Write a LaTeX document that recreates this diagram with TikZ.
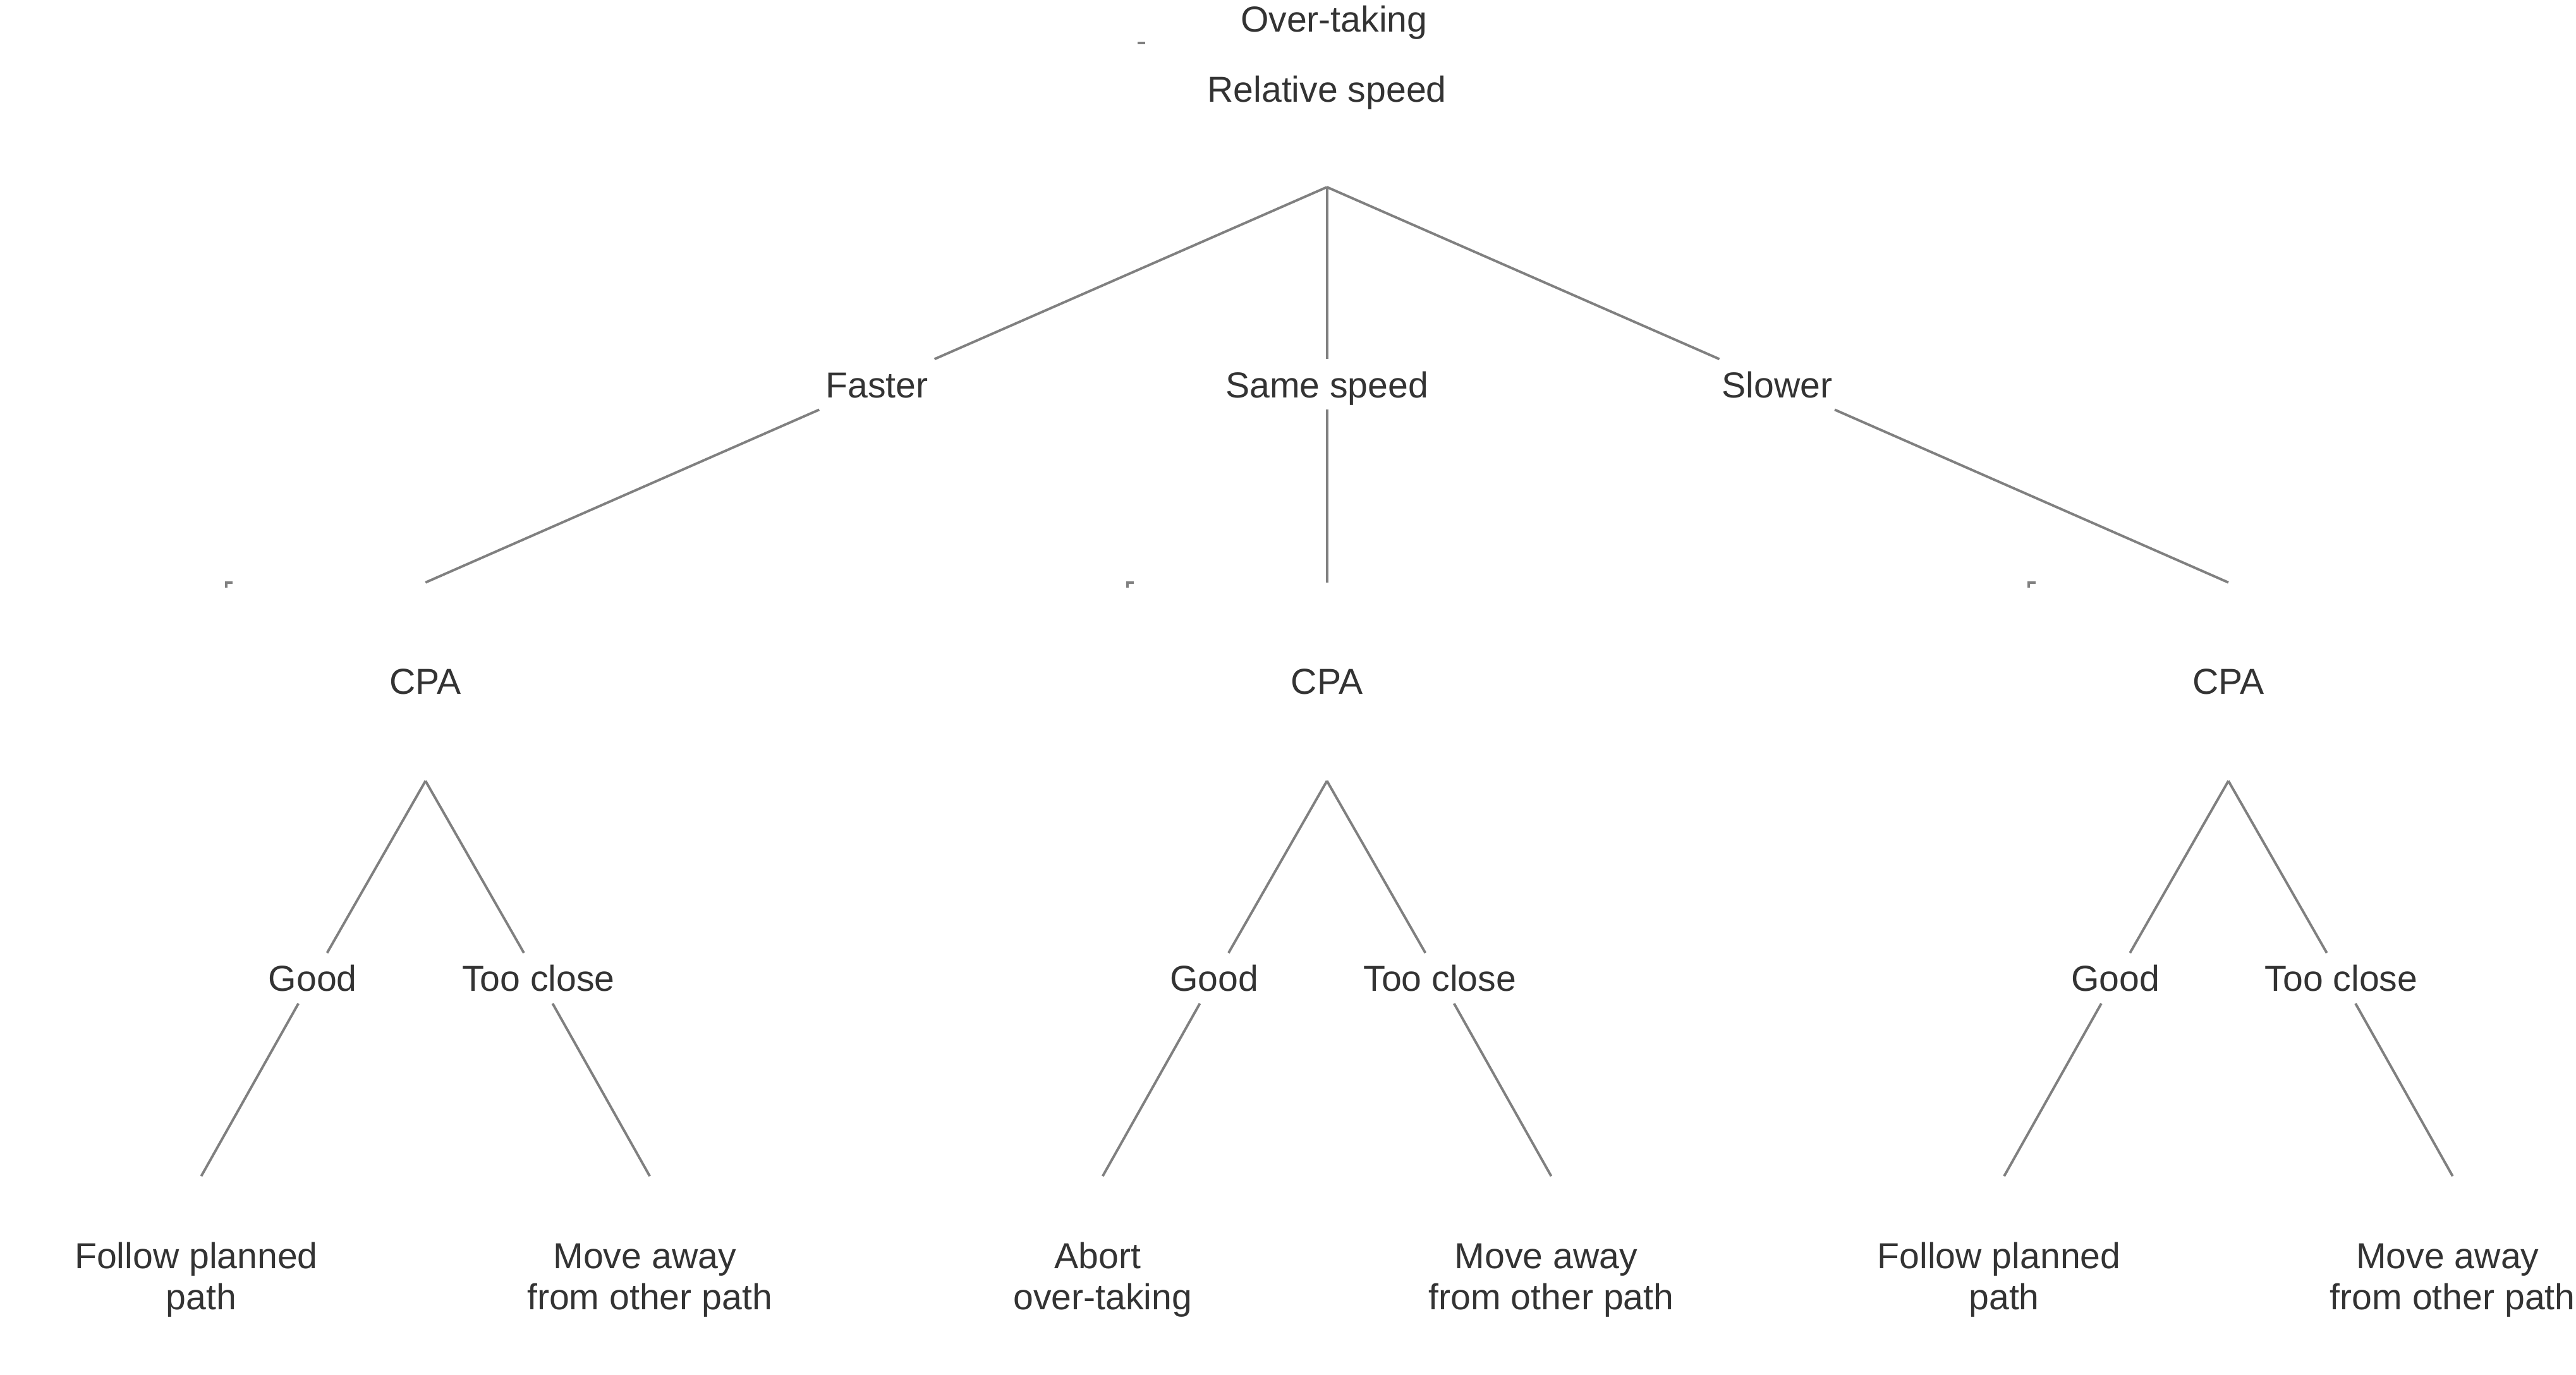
\documentclass[tikz,border=0pt]{standalone}
\usepackage{fontspec}
\setmainfont{Liberation Sans}
\definecolor{txt}{HTML}{333333}
\definecolor{edgegray}{HTML}{808080}
\begin{document}
\begin{tikzpicture}[x=0.5pt,y=-0.5pt,
  every node/.style={font=\fontsize{11}{12.5}\selectfont, text=txt},
  lbl/.style={inner xsep=3pt, inner ysep=0pt, text height=11.5pt, text depth=3.5pt},
  cpabox/.style={inner sep=0pt, minimum width=121pt, minimum height=60pt},
  leafbox/.style={inner sep=0pt, anchor=north, align=center, text height=40.5pt, text depth=19.5pt, minimum width=121pt},
  conn/.style={draw=edgegray, line width=0.75pt},
  tickmark/.style={draw=edgegray, line width=0.75pt}]
\useasboundingbox (0,0) rectangle (1568,837);

% top
\node[anchor=base] (title) at (812,19.5) {Over-taking};
\node[anchor=base, inner sep=0pt, text height=17.75pt, text depth=25.75pt, minimum width=114.7pt] (rs) at (807.7,62) {Relative speed};

% speed level
\node[lbl] (faster) at (533.7,234) {Faster};
\node[lbl] (same)   at (807.7,234) {Same speed};
\node[lbl] (slower) at (1081.7,234) {Slower};

% CPA boxes
\node[cpabox] (cpaA) at (259,415) {CPA};
\node[cpabox] (cpaB) at (807.7,415) {CPA};
\node[cpabox] (cpaC) at (1356.4,415) {CPA};

% Good / Too close
\node[lbl] (goodA)  at (190.3,595.5) {Good};
\node[lbl] (closeA) at (327.7,595.5) {Too close};
\node[lbl] (goodB)  at (739,595.5) {Good};
\node[lbl] (closeB) at (876.4,595.5) {Too close};
\node[lbl] (goodC)  at (1287.7,595.5) {Good};
\node[lbl] (closeC) at (1425.1,595.5) {Too close};

% leaves
\node[leafbox] (leafA1) at (122.5,716) {Follow planned\kern.278em\\path};
\node[leafbox] (leafA2) at (395.5,716) {Move away\kern.278em\\from other path};
\node[leafbox] (leafB1) at (671.2,716) {Abort\kern.278em\\over-taking};
\node[leafbox] (leafB2) at (944.2,716) {Move away\kern.278em\\from other path};
\node[leafbox] (leafC1) at (1219.9,716) {Follow planned\kern.278em\\path};
\node[leafbox] (leafC2) at (1492.9,716) {Move away\kern.278em\\from other path};

% connectors
\draw[conn] (rs.south) -- (faster);
\draw[conn] (rs.south) -- (same);
\draw[conn] (rs.south) -- (slower);
\draw[conn] (faster) -- (cpaA.north);
\draw[conn] (same) -- (cpaB.north);
\draw[conn] (slower) -- (cpaC.north);
\draw[conn] (cpaA.south) -- (goodA);
\draw[conn] (cpaA.south) -- (closeA);
\draw[conn] (cpaB.south) -- (goodB);
\draw[conn] (cpaB.south) -- (closeB);
\draw[conn] (cpaC.south) -- (goodC);
\draw[conn] (cpaC.south) -- (closeC);
\draw[conn] (goodA) -- (leafA1.north);
\draw[conn] (closeA) -- (leafA2.north);
\draw[conn] (goodB) -- (leafB1.north);
\draw[conn] (closeB) -- (leafB2.north);
\draw[conn] (goodC) -- (leafC1.north);
\draw[conn] (closeC) -- (leafC2.north);

% small corner marks
\draw[tickmark] (rs.north west) -- ++(4.5,0);
\draw[tickmark] ([yshift=-1.5pt]cpaA.north west) -- (cpaA.north west) -- ++(4,0);
\draw[tickmark] ([yshift=-1.5pt]cpaB.north west) -- (cpaB.north west) -- ++(4,0);
\draw[tickmark] ([yshift=-1.5pt]cpaC.north west) -- (cpaC.north west) -- ++(4,0);
\end{tikzpicture}
\end{document}
